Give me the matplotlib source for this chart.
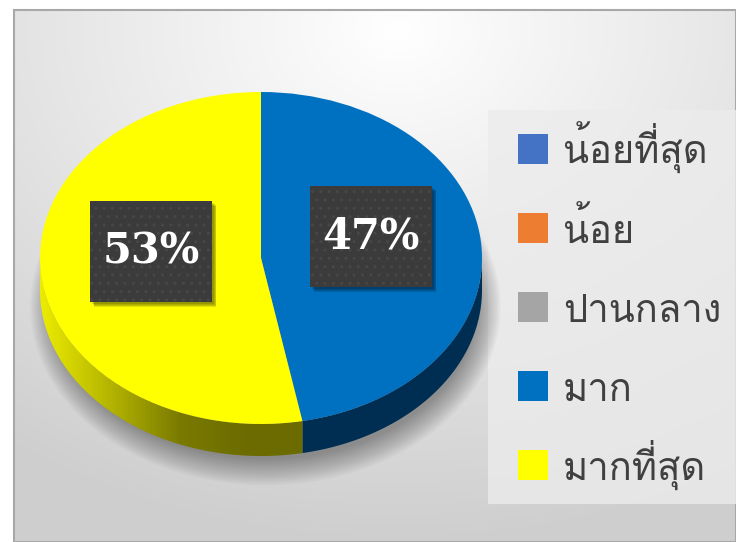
import matplotlib
matplotlib.use('Agg')
import matplotlib.pyplot as plt
import numpy as np
from matplotlib import font_manager
from matplotlib.ft2font import FT2Font
from matplotlib.patches import Polygon, Rectangle, Ellipse
from matplotlib.colors import LinearSegmentedColormap

# ข้อมูล
categories = ['น้อยที่สุด', 'น้อย', 'ปานกลาง', 'มาก', 'มากที่สุด']
values = [0, 0, 0, 47, 53]
colors = ['#4472C4', '#ED7D31', '#A5A5A5', '#0070C0', '#FFFF00']
side_colors = ['#22396a', '#7a3e18', '#555555', '#002e52', None]


# หา font ที่มีอักษรไทย
def find_thai_font(sample='น้อยที่สุดปานกลาง'):
    for fe in font_manager.fontManager.ttflist:
        try:
            cmap = FT2Font(fe.fname).get_charmap()
        except Exception:
            continue
        if all(ord(c) in cmap for c in sample):
            return fe.name
    return 'DejaVu Sans'


thai_font = find_thai_font()
plt.rcParams['font.family'] = [thai_font, 'DejaVu Sans']

W, H = 736, 542
fig = plt.figure(figsize=(W / 100, H / 100), dpi=100)

# พื้นหลัง gradient
bg = fig.add_axes([0, 0, 1, 1])
bg.set_xlim(0, W)
bg.set_ylim(H, 0)
bg.axis('off')
yy, xx = np.mgrid[0:H, 0:W]
dist = np.hypot((xx - 390) / 1.3, yy - 20)
shade = 1.0 - 0.19 * np.clip(dist / 520, 0, 1)
bg.imshow(np.dstack([shade] * 3), extent=(14, W, H, 10), aspect='auto', zorder=0)
bg.add_patch(Rectangle((14, 10), W - 14, H - 10, fill=False, edgecolor='#a8a8a8',
                       linewidth=1.5, zorder=1))

# พื้นที่กราฟวงกลม (แบบ 3 มิติ)
rx, ry, depth = 221, 166, 32
d = depth / ry
left, top = 40, 92
ax = fig.add_axes([left / W, 1 - (top + 2 * ry + depth) / H, 2 * rx / W, (2 * ry + depth) / H])
ax.patch.set_alpha(0)


def pct(p):
    return f'{p:.0f}%' if p > 0.5 else ''


wedges, texts, autotexts = ax.pie(values, colors=colors, startangle=90, counterclock=False,
                                  radius=1, center=(0, 0), autopct=pct, pctdistance=0.5,
                                  frame=True, wedgeprops=dict(linewidth=0, zorder=3))

# เงาใต้วงกลม
for i in range(14):
    sx = 0.96 + i * 0.008
    sy = 0.92 + i * 0.012
    ax.add_patch(Ellipse((0.02, -d - 0.1), 2 * sx, 2 * sy, facecolor='black', alpha=0.026,
                         linewidth=0, zorder=0.5, clip_on=False))

# ด้านข้าง
olive = LinearSegmentedColormap.from_list('olive', ['#ecec00', '#b4b400', '#7a7a00', '#6b6b00'])
for w, sc in zip(wedges, side_colors):
    if w.theta2 - w.theta1 < 1e-6:
        continue
    a, b = w.theta1, w.theta2
    lo, hi = max(a, 180), min(b, 360)
    if lo >= hi:
        lo, hi = max(a + 360, 180), min(b + 360, 360)
    if lo >= hi:
        continue
    t = np.radians(np.linspace(lo, hi, 100))
    top_pts = np.column_stack([np.cos(t), np.sin(t)])
    bot_pts = top_pts[::-1] - [0, d]
    poly = Polygon(np.vstack([top_pts, bot_pts]), closed=True, linewidth=0, zorder=2)
    if sc is None:
        poly.set_facecolor('none')
        ax.add_patch(poly)
        gx = np.linspace(-1, 1, 400)
        grad = np.clip((gx + 1) / 0.95, 0, 1)[None, :]
        im = ax.imshow(grad, cmap=olive, extent=(-1, 1, -1 - d, 0), aspect='auto', zorder=2)
        im.set_clip_path(poly)
    else:
        poly.set_facecolor(sc)
        ax.add_patch(poly)
ax.set_aspect('auto')
ax.set_xlim(-1, 1)
ax.set_ylim(-1 - d, 1)
ax.axis('off')

# ป้ายเปอร์เซ็นต์
bw, bh = 122 / rx, 101 / ry
for at in autotexts:
    if not at.get_text():
        continue
    x, y = at.get_position()
    y += 0.085
    at.set_position((x, y))
    for k in range(4):
        ax.add_patch(Rectangle((x - bw / 2 + 0.004 * (k + 2), y - bh / 2 - 0.006 * (k + 2)), bw, bh,
                               facecolor='black', alpha=0.12, linewidth=0, zorder=4))
    ax.add_patch(Rectangle((x - bw / 2, y - bh / 2), bw, bh, facecolor='#3b3b3b',
                           edgecolor='#474747', hatch='..', linewidth=0, zorder=5))
    at.set_zorder(6)
    at.set_color('white')
    at.set_fontfamily('DejaVu Serif')
    at.set_fontweight('bold')
    at.set_fontsize(30)
    at.set_va('center')
    at.set_ha('center')

# คำอธิบายสัญลักษณ์
bg.add_patch(Rectangle((488, 110), W - 488, 394, facecolor='#ececec', alpha=0.8,
                       linewidth=0, zorder=2))
for i, (cat, col) in enumerate(zip(categories, colors)):
    cy = 149 + i * 79
    bg.add_patch(Rectangle((518, cy - 15), 30, 30, facecolor=col, linewidth=0, zorder=3))
    bg.text(563, cy + 15, cat, fontsize=27.5, color='#404040', va='baseline', ha='left', zorder=3)

plt.savefig('out.png', dpi=100)
